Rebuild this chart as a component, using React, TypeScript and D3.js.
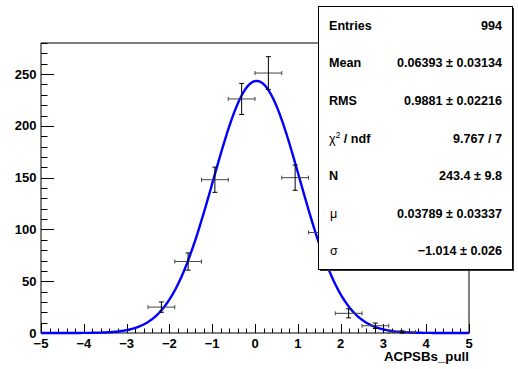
import React from "react";
import * as d3 from "d3";

const binCenters = [-2.1875, -1.5625, -0.9375, -0.3125, 0.3125, 0.9375, 1.5625, 2.1875, 2.8125, 3.4375];
const binCounts = [25, 69, 148, 226, 251, 150, 97, 19, 7, 1];
const binErrors = [5.0, 8.3, 12.2, 15.0, 15.8, 12.2, 9.8, 4.4, 2.6, 1.0];
const binHalfWidth = 0.3125;

const fitN = 243.4;
const fitMu = 0.03789;
const fitSigma = -1.014;

const xTicks = [-5, -4, -3, -2, -1, 0, 1, 2, 3, 4, 5];
const yTicks = [0, 50, 100, 150, 200, 250];

const statLabels = ["Entries", "Mean", "RMS", "chi2", "N", "μ", "σ"];
const statValues = ["994", "0.06393 ± 0.03134", "0.9881 ± 0.02216", "9.767 / 7", "243.4 ± 9.8", "0.03789 ± 0.03337", "−1.014 ± 0.026"];

const W = 518, H = 369;
const L = 41, R = 469, T = 43, B = 333;
const FONT = "'Liberation Sans', Arial, Helvetica, sans-serif";

export default function App() {
  const x = d3.scaleLinear().domain([-5, 5]).range([L, R]);
  const y = d3.scaleLinear().domain([0, 280]).range([B, T]);

  const curveX = d3.range(0, 401).map((i) => -5 + (i * 10) / 400);
  const line = d3
    .line<number>()
    .x((v) => x(v))
    .y((v) => y(fitN * Math.exp(-0.5 * Math.pow((v - fitMu) / fitSigma, 2))));

  const xMinor = d3.range(-5, 5.0001, 0.2);
  const yMinor = d3.range(0, 280.0001, 10);
  const fmt = (v: number) => (v < 0 ? "−" + Math.abs(v) : String(v));

  const bx = 318.5, by = 6.5, bw = 194, bh = 263;
  const rowH = bh / statLabels.length;
  const SF = 12.6;

  return (
    <svg width={W} height={H} style={{ position: "absolute", left: 0, top: 0, background: "#fff" }} fontFamily={FONT}>
      <rect x={0} y={0} width={W} height={H} fill="#fff" />
      {/* frame */}
      <rect x={L} y={T} width={R - L} height={B - T} fill="none" stroke="#000" strokeWidth={1} />
      {/* x ticks */}
      {xMinor.map((v, i) => {
        const major = Math.abs(v - Math.round(v)) < 1e-6;
        return (
          <line key={"xm" + i} x1={Math.round(x(v)) + 0.5} x2={Math.round(x(v)) + 0.5} y1={B} y2={B - (major ? 9 : 4.5)} stroke="#000" strokeWidth={1} />
        );
      })}
      {xTicks.map((v) => (
        <text key={"xl" + v} x={x(v)} y={347.5} textAnchor="middle" fontSize={13} fontWeight="bold">
          {fmt(v)}
        </text>
      ))}
      {/* y ticks */}
      {yMinor.map((v, i) => {
        const major = Math.round(v) % 50 === 0;
        return (
          <line key={"ym" + i} x1={L} x2={L + (major ? 13 : 6.5)} y1={Math.round(y(v)) + 0.5} y2={Math.round(y(v)) + 0.5} stroke="#000" strokeWidth={1} />
        );
      })}
      {yTicks.map((v) => (
        <text key={"yl" + v} x={36.5} y={y(v) + 4.5} textAnchor="end" fontSize={13} fontWeight="bold">
          {v}
        </text>
      ))}
      <text x={R} y={361} textAnchor="end" fontSize={13.3} fontWeight="bold">
        ACPSBs_pull
      </text>
      {/* fit curve */}
      <path d={line(curveX) || ""} fill="none" stroke="#0000ff" strokeWidth={2.4} />
      {/* error bars */}
      {binCenters.map((c, i) => {
        const cx = x(c);
        const cy = y(binCounts[i]);
        const x0 = x(c - binHalfWidth);
        const x1 = x(c + binHalfWidth);
        const y0 = y(binCounts[i] - binErrors[i]);
        const y1 = y(binCounts[i] + binErrors[i]);
        return (
          <g key={"e" + i}>
            <line x1={x0} x2={x1} y1={cy} y2={cy} stroke="#444" strokeWidth={1} />
            <line x1={x0} x2={x0} y1={cy - 2} y2={cy + 2} stroke="#444" strokeWidth={1} />
            <line x1={x1} x2={x1} y1={cy - 2} y2={cy + 2} stroke="#444" strokeWidth={1} />
            <line x1={cx} x2={cx} y1={y0} y2={y1} stroke="#000" strokeWidth={1} />
            <line x1={cx - 2.5} x2={cx + 2.5} y1={y0} y2={y0} stroke="#000" strokeWidth={1} />
            <line x1={cx - 2.5} x2={cx + 2.5} y1={y1} y2={y1} stroke="#000" strokeWidth={1} />
          </g>
        );
      })}
      {/* stats box */}
      <rect x={bx + 1.5} y={by + 1.5} width={bw} height={bh} fill="#333" />
      <rect x={bx} y={by} width={bw} height={bh} fill="#fff" stroke="#000" strokeWidth={1} />
      {statLabels.map((lab, i) => {
        const cy = by + (i + 0.5) * rowH + 4.5;
        let labelEl;
        if (lab === "chi2") {
          labelEl = (
            <text x={329} y={cy} fontSize={SF}>
              <tspan>χ</tspan>
              <tspan fontSize={8.5} dy={-5}>2</tspan>
              <tspan dy={5} fontWeight="bold"> / ndf</tspan>
            </text>
          );
        } else if (lab === "μ" || lab === "σ") {
          labelEl = (
            <text x={330} y={cy} fontSize={SF}>
              {lab}
            </text>
          );
        } else {
          labelEl = (
            <text x={329} y={cy} fontSize={SF} fontWeight="bold">
              {lab}
            </text>
          );
        }
        return (
          <g key={"s" + i}>
            {labelEl}
            <text x={502} y={cy} fontSize={SF} fontWeight="bold" textAnchor="end">
              {statValues[i]}
            </text>
          </g>
        );
      })}
    </svg>
  );
}
